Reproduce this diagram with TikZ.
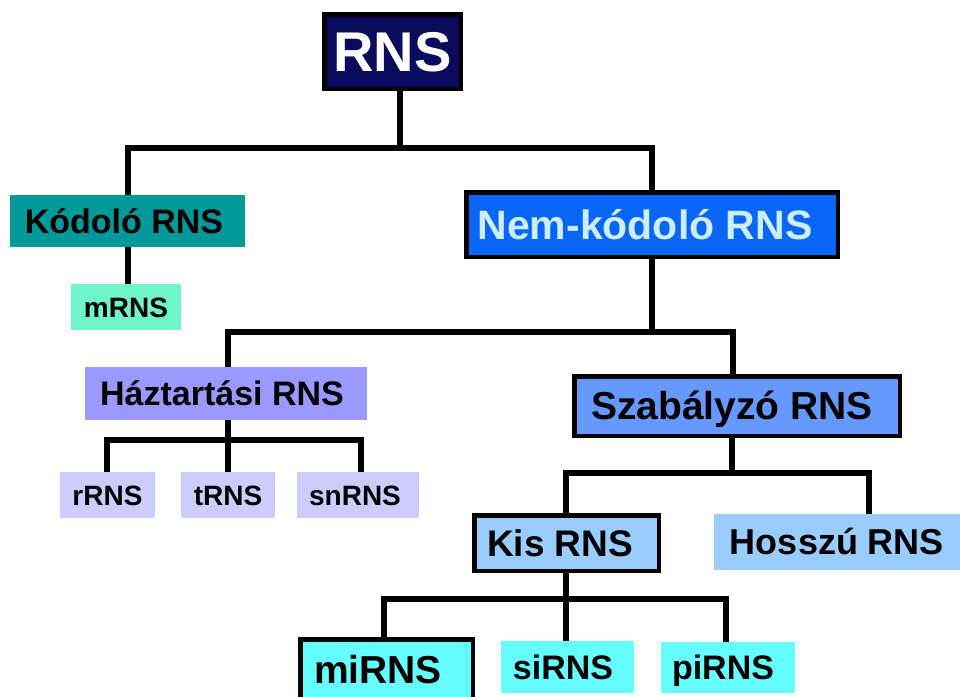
\documentclass[tikz,border=0pt]{standalone}
\usepackage{fontspec}
\setmainfont{Liberation Sans}
\definecolor{cNavy}{HTML}{0A0A5E}
\definecolor{cTeal}{HTML}{009999}
\definecolor{cMint}{HTML}{6EF5CC}
\definecolor{cBlue}{HTML}{0A66F8}
\definecolor{cBlueTxt}{HTML}{CCEEFF}
\definecolor{cLav}{HTML}{9999FF}
\definecolor{cLavLt}{HTML}{CCCCFF}
\definecolor{cCorn}{HTML}{6699FF}
\definecolor{cSky}{HTML}{99CCFF}
\definecolor{cCyan}{HTML}{66FFFF}
\tikzset{
  box/.style={inner sep=0pt, outer sep=0pt, text depth=0pt},
  bordered/.style={draw=black, line width=4.5pt},
  fs/.style 2 args={font=\bfseries\fontsize{#1}{#1}\selectfont, text height=#2},
  lshift/.style={execute at end node={\hspace*{#1}}},
  conn/.style={line width=5.5pt, line join=miter, line cap=rect},
}
\begin{document}
\begin{tikzpicture}[x=1pt,y=-1pt]
\useasboundingbox (0,0) rectangle (960,696);
\clip (0,0) rectangle (960,696);
\fill[white] (0,0) rectangle (960,696);

% junction coordinates
\coordinate (j1) at (400,148);
\coordinate (j2) at (652,332);
\coordinate (j3) at (228,440);
\coordinate (j4) at (732,473);
\coordinate (j5) at (566,599);

% connectors (drawn first, boxes on top)
\draw[conn] (400,91) -- (j1);
\draw[conn] (128,195) |- (j1) -| (652,190);
\draw[conn] (128,247) -- (128,284);
\draw[conn] (652,259) -- (j2);
\draw[conn] (228,367) |- (j2) -| (733,374);
\draw[conn] (228,420) -- (j3);
\draw[conn] (107,472) |- (j3) -| (361,472);
\draw[conn] (228,440) -- (228,472);
\draw[conn] (732,438) -- (j4);
\draw[conn] (566,513) |- (j4) -| (869,514);
\draw[conn] (566,573) -- (j5);
\draw[conn] (384,637) |- (j5) -| (726,642);
\draw[conn] (566,599) -- (566,641);

% nodes
\node[box, bordered, fill=cNavy, text=white, fs={56}{40.1pt}, minimum width=136.5pt, minimum height=74.5pt] (rns) at (392.5,51.5) {RNS};
\node[box, fill=cTeal, text=black, fs={34}{24.3pt}, minimum width=235pt, minimum height=52pt, lshift=7pt] (kod) at (127.5,221) {Kódoló RNS};
\node[box, fill=cMint, text=black, fs={28}{20pt}, minimum width=110pt, minimum height=46pt] (mrns) at (126,307) {mRNS};
\node[box, bordered, fill=cBlue, text=cBlueTxt, fs={41}{29.4pt}, minimum width=371.5pt, minimum height=64.5pt, lshift=14pt] (nem) at (652,224.5) {Nem-kódoló RNS};
\node[box, fill=cLav, text=black, fs={34}{24.3pt}, minimum width=282pt, minimum height=53pt, lshift=8pt] (haz) at (226,393.5) {Háztartási RNS};
\node[box, fill=cLavLt, text=black, fs={28}{20pt}, minimum width=95pt, minimum height=46pt] (rrns) at (107.5,495) {rRNS};
\node[box, fill=cLavLt, text=black, fs={28}{20pt}, minimum width=94pt, minimum height=46pt] (trns) at (228,495) {tRNS};
\node[box, fill=cLavLt, text=black, fs={28}{20pt}, minimum width=122pt, minimum height=46pt, lshift=6pt] (snrns) at (358,495) {snRNS};
\node[box, bordered, fill=cCorn, text=black, fs={39}{27.9pt}, minimum width=325.5pt, minimum height=59.5pt, lshift=10pt] (szab) at (737,406) {Szabályzó RNS};
\node[box, bordered, fill=cSky, text=black, fs={37}{26.5pt}, minimum width=184.5pt, minimum height=55.5pt, lshift=13pt] (kis) at (566.5,543) {Kis RNS};
\node[box, fill=cSky, text=black, fs={36}{25.8pt}, minimum width=246pt, minimum height=56pt] (hossz) at (837,542) {Hosszú RNS};
\node[box, bordered, fill=cCyan, text=black, fs={39}{27.9pt}, minimum width=172.5pt, minimum height=61.5pt, lshift=17pt] (mirns) at (386.5,670) {miRNS};
\node[box, fill=cCyan, text=black, fs={34}{24.3pt}, minimum width=133pt, minimum height=52pt, lshift=9pt] (sirns) at (567.5,667) {siRNS};
\node[box, fill=cCyan, text=black, fs={34}{24.3pt}, minimum width=134pt, minimum height=51pt, lshift=10pt] (pirns) at (728,667.5) {piRNS};
\end{tikzpicture}
\end{document}
